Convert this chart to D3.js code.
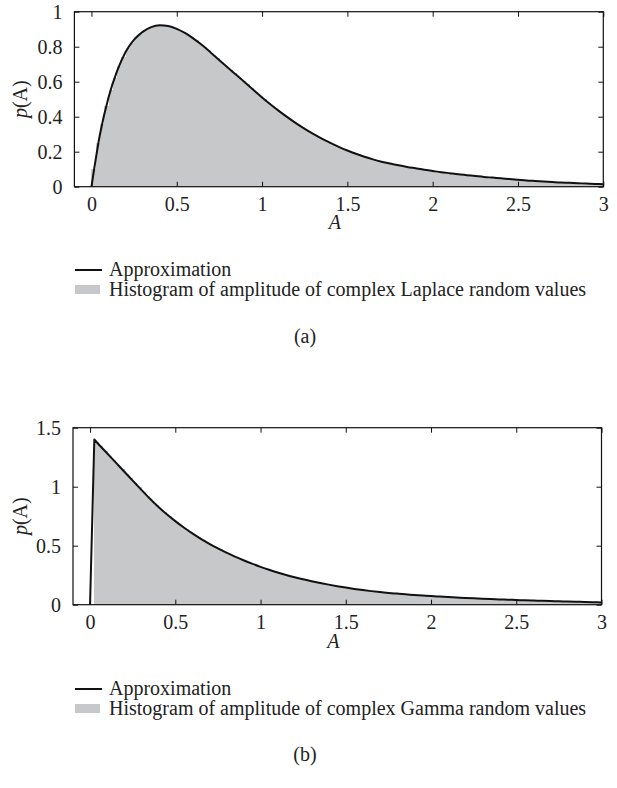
<!DOCTYPE html>
<html>
<head>
<meta charset="utf-8">
<script src="https://cdn.jsdelivr.net/npm/d3@7"></script>
<style>
  html, body { margin: 0; padding: 0; background: #fff; }
  svg { display: block; }
</style>
</head>
<body>
<svg id="chart" width="617" height="788"></svg>
<script>
// ---------------- DATA ----------------
const xTicks = [0, 0.5, 1, 1.5, 2, 2.5, 3];
const yTicksA = [0, 0.2, 0.4, 0.6, 0.8, 1];
const yTicksB = [0, 0.5, 1, 1.5];
const BIN_WIDTH = 0.025;

// Panel (a): approximation curve, sampled every 0.05 from A = 0 to 3
const approxA_x = [0,0.05,0.1,0.15,0.2,0.25,0.3,0.35,0.4,0.45,0.5,0.55,0.6,0.65,0.7,0.75,0.8,0.85,0.9,0.95,
  1,1.05,1.1,1.15,1.2,1.25,1.3,1.35,1.4,1.45,1.5,1.55,1.6,1.65,1.7,1.75,1.8,1.85,1.9,1.95,
  2,2.05,2.1,2.15,2.2,2.25,2.3,2.35,2.4,2.45,2.5,2.55,2.6,2.65,2.7,2.75,2.8,2.85,2.9,2.95,3];
const approxA_p = [0,.30,.51,.66,.77,.84,.885,.912,.922,.918,.902,.877,.845,.808,.766,.723,.68,.638,.596,.553,
  .51,.47,.432,.396,.362,.331,.302,.275,.251,.228,.207,.188,.171,.156,.143,.132,.122,.113,.105,.097,
  .090,.083,.077,.071,.066,.061,.056,.052,.048,.044,.040,.036,.033,.030,.027,.024,.022,.020,.018,.016,.014];

// Panel (a): histogram (bins of width 0.025 from A = 0)
const histA = [.10,.25,.36,.46,.55,.62,.69,.74,.79,.82,.853,.874,.893,.905,.916,.921,.922,.919,.914,.906,
  .896,.883,.869,.853,.836,.817,.797,.776,.755,.734,.712,.691,.669,.648,.627,.606,.585,.564,.542,.521,
  .50,.48,.46,.441,.423,.405,.387,.370,.354,.339,.324,.309,.295,.282,.269,.257,
  .245,.234,.223,.212,.202,.193,.184,.175,.167,.160,.153,.146,.140,.135,.130,.125,.120,.115,.111,.107,
  .103,.099,.095,.092,.088,.085,.082,.079,.076,.072,.070,.067,.065,.062,.060,.057,.055,.053,.051,.049,
  .047,.045,.043,.041,.039,.037,.035,.034,.032,.031,.029,.028,.026,.025,.023,.023,.021,.021,.019,.019,
  .017,.017,.015,.015];

// Panel (b): approximation curve
const approxB_x = [0,0.025,0.05,0.1,0.15,0.2,0.25,0.3,0.35,0.4,0.45,0.5,0.55,0.6,0.65,0.7,0.75,0.8,0.85,0.9,0.95,
  1,1.05,1.1,1.15,1.2,1.25,1.3,1.35,1.4,1.45,1.5,1.55,1.6,1.65,1.7,1.75,1.8,1.85,1.9,1.95,
  2,2.05,2.1,2.15,2.2,2.25,2.3,2.35,2.4,2.45,2.5,2.55,2.6,2.65,2.7,2.75,2.8,2.85,2.9,2.95,3];
const approxB_p = [0,1.40,1.36,1.283,1.206,1.129,1.052,.975,.90,.83,.766,.708,.654,.604,.558,.516,.477,.441,.408,.377,.348,
  .321,.296,.273,.252,.233,.215,.199,.184,.170,.157,.145,.134,.124,.115,.107,.100,.094,.088,.083,.078,
  .073,.069,.065,.061,.057,.054,.051,.048,.045,.042,.040,.037,.035,.033,.031,.029,.027,.025,.023,.021,.019];

// Panel (b): histogram (bins of width 0.025 from A = 0)
const histB = [0,1.38,1.341,1.302,1.264,1.225,1.187,1.148,1.11,1.071,1.033,.994,.956,.919,.882,.848,.814,.782,.752,.722,
  .694,.668,.641,.617,.592,.570,.547,.527,.506,.487,.468,.450,.433,.416,.400,.385,.370,.355,.341,.328,
  .315,.302,.290,.279,.268,.257,.247,.238,.228,.220,.211,.203,.195,.188,.180,.174,.167,.160,.154,.148,
  .142,.137,.131,.127,.122,.117,.113,.109,.105,.102,.098,.096,.092,.090,.087,.084,.082,.079,.077,.074,
  .072,.070,.068,.066,.064,.062,.060,.058,.056,.055,.053,.052,.050,.049,.047,.046,.044,.043,.041,.040,
  .039,.038,.036,.036,.034,.034,.032,.032,.030,.030,.028,.028,.026,.026,.024,.024,.022,.022,.020,.020];

const legendLine = "Approximation";
const legendHistA = "Histogram of amplitude of complex Laplace random values";
const legendHistB = "Histogram of amplitude of complex Gamma random values";

// ---------------- DRAW ----------------
const FONT = "'Liberation Serif', 'Times New Roman', serif";
const FS = 20;
const HIST_COLOR = "#c7c8ca";
const svg = d3.select("#chart");

function panel(cfg) {
  const g = svg.append("g");
  const x = d3.scaleLinear().domain([-0.1, 3]).range([cfg.left, cfg.right]);
  const y = d3.scaleLinear().domain([0, cfg.yMax]).range([cfg.bottom, cfg.top]);

  // histogram
  g.append("g").attr("shape-rendering", "crispEdges")
    .selectAll("rect").data(cfg.hist).join("rect")
    .attr("x", (d, i) => x(i * BIN_WIDTH))
    .attr("width", (d, i) => x((i + 1) * BIN_WIDTH) - x(i * BIN_WIDTH) + 0.5)
    .attr("y", d => y(d))
    .attr("height", d => y(0) - y(d))
    .attr("fill", HIST_COLOR);

  // approximation curve: straight rise to the first peak point, smooth afterwards
  const pts = cfg.cx.map((a, i) => [a, cfg.cy[i]]);
  const smooth = d3.line().x(d => x(d[0])).y(d => y(d[1])).curve(d3.curveMonotoneX);
  let dStr;
  if (cfg.sharpStart) {
    const p0 = pts[0];
    dStr = `M${x(p0[0])},${y(p0[1])}L` + smooth(pts.slice(1)).slice(1);
  } else {
    dStr = smooth(pts);
  }
  g.append("path")
    .attr("fill", "none").attr("stroke", "#111").attr("stroke-width", 2)
    .attr("stroke-linejoin", "round")
    .attr("d", dStr);

  // axes (inward ticks)
  const TS = 5;
  const styleAxis = sel => {
    sel.select(".domain").remove();
    sel.selectAll(".tick line").attr("stroke", "#111");
    sel.selectAll("text").attr("font-family", FONT).attr("font-size", FS).attr("fill", "#222");
  };
  g.append("g").attr("transform", `translate(0,${cfg.bottom})`)
    .call(d3.axisBottom(x).tickValues(xTicks).tickFormat(d => String(d)).tickSizeInner(-TS).tickSizeOuter(0).tickPadding(10))
    .call(styleAxis);
  g.append("g").attr("transform", `translate(0,${cfg.top})`)
    .call(d3.axisTop(x).tickValues(xTicks).tickFormat("").tickSizeInner(-TS).tickSizeOuter(0))
    .call(styleAxis);
  g.append("g").attr("transform", `translate(${cfg.left},0)`)
    .call(d3.axisLeft(y).tickValues(cfg.yTicks).tickFormat(d => String(d)).tickSizeInner(-TS).tickSizeOuter(0).tickPadding(12))
    .call(styleAxis);
  g.append("g").attr("transform", `translate(${cfg.right},0)`)
    .call(d3.axisRight(y).tickValues(cfg.yTicks).tickFormat("").tickSizeInner(-TS).tickSizeOuter(0))
    .call(styleAxis);

  // frame
  g.append("rect").attr("x", cfg.left).attr("y", cfg.top)
    .attr("width", cfg.right - cfg.left).attr("height", cfg.bottom - cfg.top)
    .attr("fill", "none").attr("stroke", "#111").attr("stroke-width", 1.2);

  // axis labels
  g.append("text").attr("x", (cfg.left + cfg.right) / 2 - 4).attr("y", cfg.xLabelY)
    .attr("text-anchor", "middle").attr("font-family", FONT).attr("font-size", FS)
    .attr("font-style", "italic").attr("fill", "#222").text("A");
  const yl = g.append("text")
    .attr("transform", `translate(${cfg.yLabelX},${(cfg.top + cfg.bottom) / 2}) rotate(-90)`)
    .attr("text-anchor", "middle").attr("font-family", FONT).attr("font-size", FS).attr("fill", "#222");
  yl.append("tspan").attr("font-style", "italic").text("p");
  yl.append("tspan").text("(A)");

  // legend
  const lx = 75;
  g.append("line").attr("x1", lx).attr("x2", lx + 27)
    .attr("y1", cfg.legY1 - 6).attr("y2", cfg.legY1 - 6)
    .attr("stroke", "#111").attr("stroke-width", 2);
  g.append("text").attr("x", lx + 34).attr("y", cfg.legY1)
    .attr("font-family", FONT).attr("font-size", FS).attr("fill", "#222").text(legendLine);
  g.append("rect").attr("x", lx).attr("y", cfg.legY2 - 11).attr("width", 25).attr("height", 9)
    .attr("fill", HIST_COLOR);
  g.append("text").attr("x", lx + 34).attr("y", cfg.legY2)
    .attr("font-family", FONT).attr("font-size", FS).attr("fill", "#222").text(cfg.legendText);

  // caption
  g.append("text").attr("x", 305).attr("y", cfg.captionY).attr("text-anchor", "middle")
    .attr("font-family", FONT).attr("font-size", FS).attr("fill", "#222").text(cfg.caption);
}

panel({
  left: 74.4, right: 603.3, top: 11.7, bottom: 186.7, yMax: 1, yTicks: yTicksA,
  hist: histA, cx: approxA_x, cy: approxA_p, sharpStart: false,
  xLabelY: 229, yLabelX: 27, legY1: 276, legY2: 296, captionY: 343,
  legendText: legendHistA, caption: "(a)"
});
panel({
  left: 73, right: 601.5, top: 427.7, bottom: 604.7, yMax: 1.5, yTicks: yTicksB,
  hist: histB, cx: approxB_x, cy: approxB_p, sharpStart: true,
  xLabelY: 648, yLabelX: 27, legY1: 695, legY2: 715, captionY: 761,
  legendText: legendHistB, caption: "(b)"
});
</script>
</body>
</html>
